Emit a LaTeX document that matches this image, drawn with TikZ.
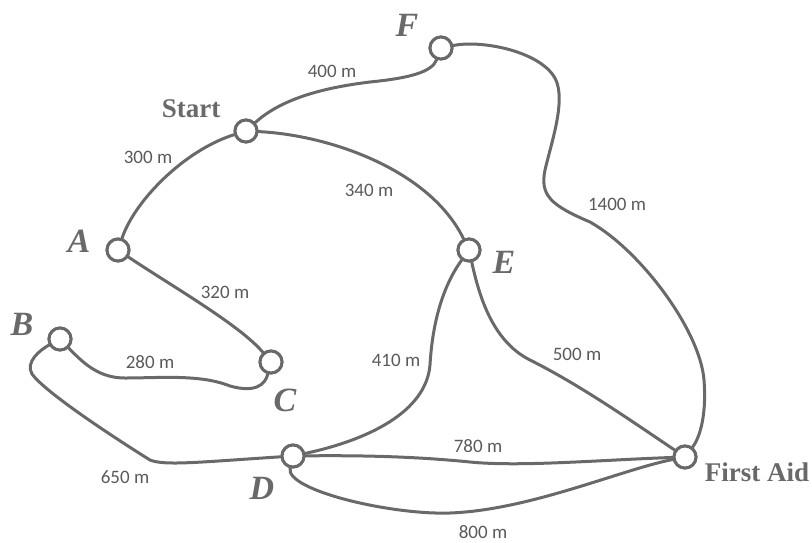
\documentclass[tikz,border=0pt]{standalone}
\usepackage{fontspec}
\setmainfont{Liberation Serif}
\newfontfamily\labfont{Carlito}
\definecolor{linegray}{RGB}{105,105,105}
\definecolor{textgray}{RGB}{90,90,90}
\tikzset{
  site/.style={circle, draw=linegray, line width=3pt, fill=white, minimum size=22pt, inner sep=0pt},
  trail/.style={draw=linegray, line width=3pt, line cap=round},
  dist/.style={text=textgray, font=\labfont\fontsize{19}{19}\selectfont, inner sep=0pt},
  placename/.style={text=linegray, font=\bfseries\fontsize{27}{27}\selectfont, inner sep=0pt},
  letter/.style={text=linegray, font=\bfseries\itshape\fontsize{34}{34}\selectfont, inner sep=0pt}
}
\begin{document}
\begin{tikzpicture}[x=1pt,y=-1pt]
\useasboundingbox (0,0) rectangle (812,542);
% sites
\node[site] (F) at (441,48) {};
\node[site] (S) at (246,131) {};
\node[site] (A) at (118,250) {};
\node[site] (E) at (469,250) {};
\node[site] (B) at (60,339) {};
\node[site] (C) at (271,362) {};
\node[site] (D) at (293,456) {};
\node[site] (FA) at (685,457) {};
% trails
\draw[trail] (S) .. controls (280,100) and (320,88) .. (370,82) .. controls (410,78) and (432,72) .. (F);
\draw[trail] (F) .. controls (480,40) and (535,50) .. (553,75) .. controls (568,95) and (552,140) .. (545,170) .. controls (540,195) and (550,205) .. (590,222) .. controls (640,250) and (700,330) .. (704,380) .. controls (707,420) and (698,440) .. (FA);
\draw[trail] (S) .. controls (185,150) and (135,200) .. (A);
\draw[trail] (S) .. controls (330,135) and (430,170) .. (E);
\draw[trail] (A) .. controls (170,285) and (240,325) .. (C);
\draw[trail] (B) .. controls (85,365) and (100,378) .. (125,378) .. controls (160,378) and (200,374) .. (230,386) .. controls (255,393) and (265,385) .. (C);
\draw[trail] (B) .. controls (40,350) and (25,362) .. (32,374) .. controls (45,392) and (110,435) .. (150,460) .. controls (165,466) and (200,462) .. (D);
\draw[trail] (E) .. controls (440,290) and (432,330) .. (430,365) .. controls (426,412) and (368,440) .. (D);
\draw[trail] (E) .. controls (478,290) and (490,340) .. (530,360) .. controls (580,385) and (630,420) .. (FA);
\draw[trail] (D) .. controls (380,455) and (430,458) .. (470,462) .. controls (520,467) and (600,460) .. (FA);
\draw[trail] (D) .. controls (285,490) and (390,515) .. (450,513) .. controls (530,510) and (620,470) .. (FA);
% redraw sites on top
\node[site] at (F.center) {};
\node[site] at (S.center) {};
\node[site] at (A.center) {};
\node[site] at (E.center) {};
\node[site] at (B.center) {};
\node[site] at (C.center) {};
\node[site] at (D.center) {};
\node[site] at (FA.center) {};
% distances
\node[dist] (l400) at (332,71) {400 m};
\node[dist] (l300) at (148,157) {300 m};
\node[dist] (l340) at (369,190) {340 m};
\node[dist] (l1400) at (617,204) {1400 m};
\node[dist] (l320) at (225,292) {320 m};
\node[dist] (l280) at (150,362) {280 m};
\node[dist] (l410) at (396,360) {410 m};
\node[dist] (l500) at (577,354) {500 m};
\node[dist] (l780) at (478,446) {780 m};
\node[dist] (l650) at (125,477) {650 m};
\node[dist] (l800) at (483,532) {800 m};
% names
\node[letter] (nF) at (407,25) {F};
\node[placename] (nS) at (191,109) {Start};
\node[letter] (nA) at (79,241) {A};
\node[letter] (nE) at (504,262) {E};
\node[letter] (nB) at (22,324) {B};
\node[letter] (nC) at (285,400) {C};
\node[letter] (nD) at (262,488) {D};
\node[placename] (nFA) at (757,472) {First Aid};
\end{tikzpicture}
\end{document}
